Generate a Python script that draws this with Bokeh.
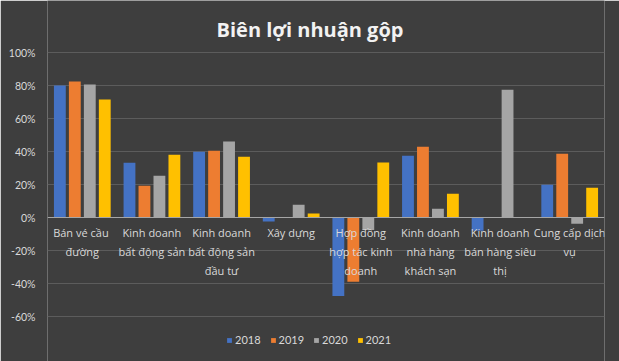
from bokeh.plotting import figure
from bokeh.models import (ColumnDataSource, FactorRange, FixedTicker, NumeralTickFormatter,
                          Span, Label, Legend, LegendItem)
from bokeh.transform import dodge
from bokeh.core.properties import value
from bokeh.embed import file_html
from bokeh.resources import INLINE

# ---- data ----
categories = ["c1", "c2", "c3", "c4", "c5", "c6", "c7", "c8"]
cat_labels = [
    "Bán vé  cầu\nđường",
    "Kinh doanh\nbất động sản",
    "Kinh doanh\nbất động sản\nđầu tư",
    "Xây dựng",
    "Hợp đồng\nhợp tác kinh\ndoanh",
    "Kinh doanh\nnhà hàng\nkhách sạn",
    "Kinh doanh\nbán hàng siêu\nthị",
    "Cung cấp dịch\nvụ",
]
years = ["2018", "2019", "2020", "2021"]
y2018 = [0.800, 0.332, 0.399, -0.024, -0.476, 0.374, -0.080, 0.198]
y2019 = [0.824, 0.192, 0.405, 0.0, -0.389, 0.429, 0.0, 0.387]
y2020 = [0.806, 0.253, 0.460, 0.077, -0.075, 0.053, 0.775, -0.038]
y2021 = [0.715, 0.381, 0.368, 0.024, 0.334, 0.144, 0.0, 0.180]
y_ticks = [-0.6, -0.4, -0.2, 0.0, 0.2, 0.4, 0.6, 0.8, 1.0]
title_text = "Biên lợi nhuận gộp"

colors = ["#4472C4", "#ED7D31", "#A5A5A5", "#FFC000"]
BG = "#3e3e3e"

src = ColumnDataSource(dict(cat=categories, label=cat_labels, zero=[0.0] * len(categories),
                            y2018=y2018, y2019=y2019, y2020=y2020, y2021=y2021))

# the frame spans the full height (1.65 px per %); title and legend sit inside it
p = figure(x_range=FactorRange(*categories), y_range=(-0.6 - 45 / 165, 1.0 + 52 / 165),
           output_backend="svg", toolbar_location=None,
           frame_width=557, frame_height=361,
           min_border_left=47, min_border_right=15, min_border_top=0, min_border_bottom=0)
p.title.visible = False
p.background_fill_color = BG
p.border_fill_color = BG
p.outline_line_color = None

p.xaxis.visible = False
p.xgrid.grid_line_color = None
p.ygrid.grid_line_color = "#5c5c5c"
p.ygrid.grid_line_width = 1

ya = p.yaxis[0]
ya.ticker = FixedTicker(ticks=y_ticks)
ya.formatter = NumeralTickFormatter(format="0%")
ya.axis_line_color = None
ya.major_tick_line_color = None
ya.minor_tick_line_color = None
ya.major_tick_out = 0
ya.major_tick_in = 0
ya.major_label_standoff = 12
ya.major_label_text_color = "#d9d9d9"
ya.major_label_text_font = "Lato"
ya.major_label_text_font_size = "10.5px"

offsets = [-0.3225, -0.1075, 0.1075, 0.3225]
cols = ["y2018", "y2019", "y2020", "y2021"]
renderers = []
for off, col, c in zip(offsets, cols, colors):
    r = p.vbar(x=dodge("cat", off, range=p.x_range), top=col, bottom=0, width=0.17,
               source=src, fill_color=c, line_color=None)
    renderers.append(r)

p.add_layout(Span(location=0, dimension="width", line_color="#a6a6a6", line_width=1))

p.text(x="cat", y="zero", text="label", source=src, text_align="center",
       text_baseline="top", y_offset=7, text_color="#d9d9d9",
       text_font=value("Open Sans"), text_font_size="11px", text_line_height=1.29)

p.add_layout(Label(x=262.5, y=332, x_units="screen", y_units="screen", text=title_text,
                   text_align="center", text_baseline="alphabetic", text_color="#f2f2f2",
                   text_font="Open Sans", text_font_style="bold", text_font_size="20px"))

legend = Legend(items=[LegendItem(label=yr, renderers=[r]) for yr, r in zip(years, renderers)],
                orientation="horizontal", location=(179, 15),
                glyph_width=6, glyph_height=6, label_standoff=3, spacing=9,
                label_height=12, label_width=20,
                padding=0, margin=0, background_fill_alpha=0, border_line_color=None,
                label_text_color="#d9d9d9", label_text_font="Lato", label_text_font_size="11px")
p.add_layout(legend, "center")

open("out.html", "w").write(file_html(p, INLINE))
